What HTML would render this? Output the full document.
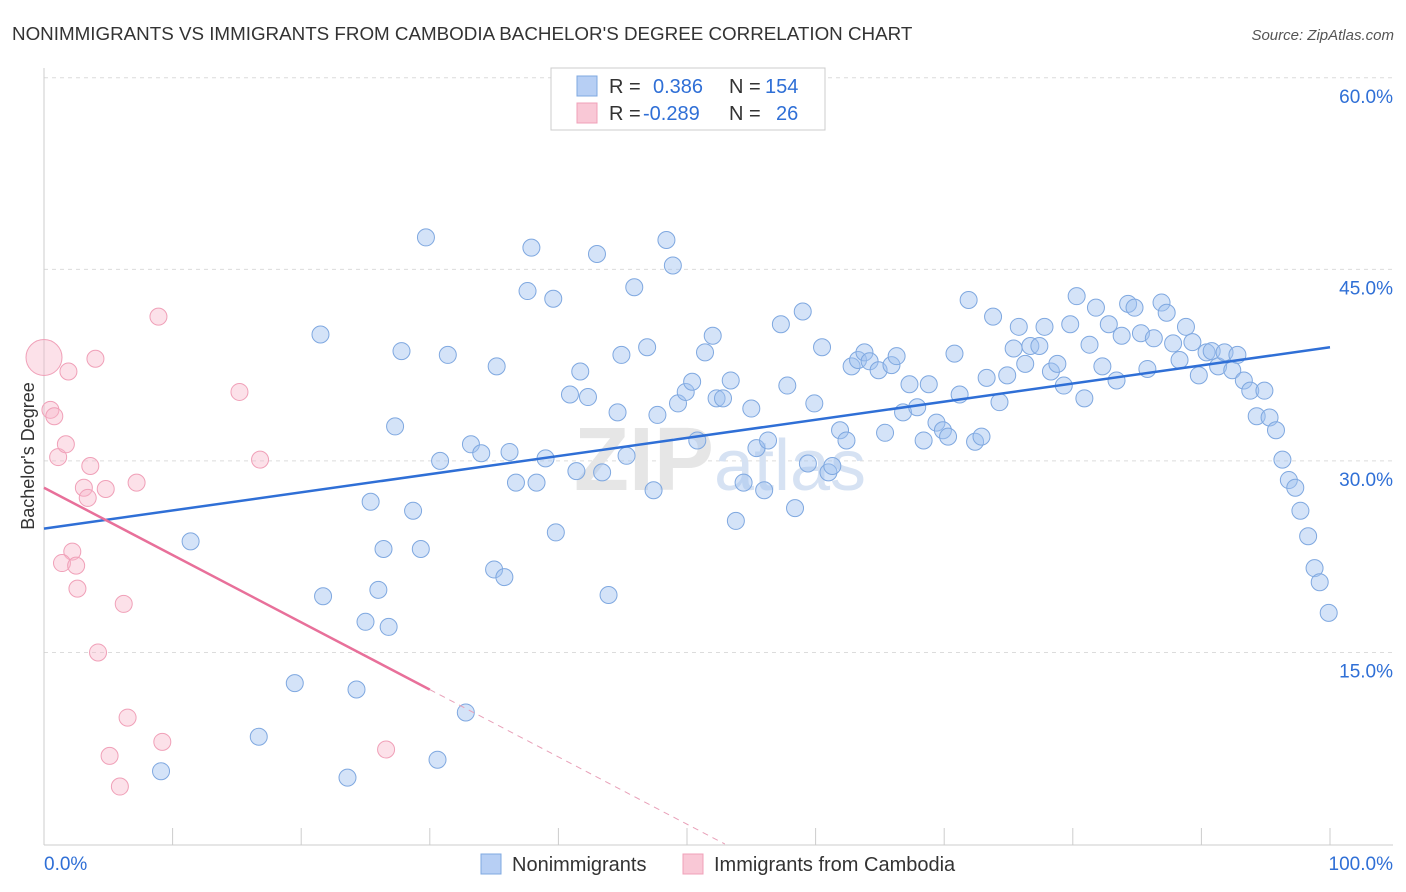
<!DOCTYPE html>
<html><head><meta charset="utf-8"><style>
body{margin:0;background:#fff;font-family:"Liberation Sans",sans-serif;}
svg{display:block}
</style></head><body>
<svg id="chart" width="1406" height="892">
<text x="12" y="40" font-size="18.8" fill="#333" letter-spacing="0">NONIMMIGRANTS VS IMMIGRANTS FROM CAMBODIA BACHELOR'S DEGREE CORRELATION CHART</text>
<text x="1394" y="40" font-size="15" fill="#555" text-anchor="end" font-style="italic">Source: ZipAtlas.com</text>
<g id="grid"></g>
<text x="720" y="490" font-size="90" font-weight="bold" fill="#e6e6e6" text-anchor="middle">ZIP<tspan fill="#d6e2f3" font-weight="normal" font-size="72">atlas</tspan></text>
<text transform="translate(34,456) rotate(-90)" font-size="18" fill="#333" text-anchor="middle">Bachelor's Degree</text>
<g id="marks"></g>
<g>
<rect x="551" y="68" width="274" height="62" fill="#fff" stroke="#ccc"/>
<rect x="577" y="76" width="20" height="20" fill="#b7cff4" stroke="#7fa8e0"/>
<text x="609" y="93" font-size="20" fill="#333">R = <tspan fill="#2f6fd6" x="653">0.386</tspan><tspan x="729" fill="#333">N =</tspan><tspan x="765" fill="#2f6fd6">154</tspan></text>
<rect x="577" y="103" width="20" height="20" fill="#f9c8d6" stroke="#f0a0b8"/>
<text x="609" y="120" font-size="20" fill="#333">R = <tspan fill="#2f6fd6" x="643">-0.289</tspan><tspan x="729" fill="#333">N =</tspan><tspan x="776" fill="#2f6fd6">26</tspan></text>
</g>
<g>
<rect x="481" y="854" width="20" height="20" fill="#b7cff4" stroke="#7fa8e0"/>
<text x="512" y="871" font-size="20" fill="#333">Nonimmigrants</text>
<rect x="683" y="854" width="20" height="20" fill="#f9c8d6" stroke="#f0a0b8"/>
<text x="714" y="871" font-size="20" fill="#333">Immigrants from Cambodia</text>
</g>
</svg>
<script>
const blueX=[29.7,37.9,43.0,48.4,48.9,37.6,39.6,45.9,21.5,27.8,31.4,35.2,27.3,33.2,34.0,36.2,39.0,30.8,25.4,28.7,26.4,29.3,11.4,21.7,26.0,25.0,26.8,35.0,35.8,36.7,38.3,41.4,43.4,45.3,47.4,39.8,43.9,19.5,24.3,16.7,9.1,23.6,30.6,32.8,40.9,42.3,41.7,44.6,44.9,46.9,47.7,49.3,49.9,50.4,50.8,51.4,52.0,52.3,52.8,53.4,55.0,55.4,56.3,54.4,56.0,53.8,58.4,57.8,57.3,59.0,59.9,60.5,59.4,61.0,61.3,61.9,62.4,62.8,63.3,63.8,64.2,64.9,65.4,65.9,66.3,66.8,67.3,67.9,68.4,68.8,69.4,69.9,70.3,70.8,71.2,71.9,72.4,72.9,73.3,73.8,74.3,74.9,75.4,75.8,76.3,76.7,77.4,77.8,78.3,78.8,79.3,79.8,80.3,80.9,81.3,81.8,82.3,82.8,83.4,83.8,84.3,84.8,85.3,85.8,86.3,86.9,87.3,87.8,88.3,88.8,89.3,89.8,90.4,90.8,91.3,91.8,92.4,92.8,93.3,93.8,94.3,94.9,95.3,95.8,96.3,96.8,97.3,97.7,98.3,98.8,99.2,99.9,46.3];
const blueY=[47.5,46.7,46.2,47.3,45.3,43.3,42.7,43.6,39.9,38.6,38.3,37.4,32.7,31.3,30.6,30.7,30.2,30.0,26.8,26.1,23.1,23.1,23.7,19.4,19.9,17.4,17.0,21.5,20.9,28.3,28.3,29.2,29.1,30.4,27.7,24.4,19.5,12.6,12.1,8.4,5.7,5.2,6.6,10.3,35.2,35.0,37.0,33.8,38.3,38.9,33.6,34.5,35.4,36.2,31.6,38.5,39.8,34.9,34.9,36.3,34.1,31.0,31.6,28.3,27.7,25.3,26.3,35.9,40.7,41.7,34.5,38.9,29.8,29.1,29.6,32.4,31.6,37.4,37.9,38.5,37.8,37.1,32.2,37.5,38.2,33.8,36.0,34.2,31.6,36.0,33.0,32.4,31.9,38.4,35.2,42.6,31.5,31.9,36.5,41.3,34.6,36.7,38.8,40.5,37.6,39.0,39.0,40.5,37.0,37.6,35.9,40.7,42.9,34.9,39.1,42.0,37.4,40.7,36.3,39.8,42.3,42.0,40.0,37.2,39.6,42.4,41.6,39.2,37.9,40.5,39.3,36.7,38.5,38.6,37.4,38.5,37.1,38.3,36.3,35.5,33.5,35.5,33.4,32.4,30.1,28.5,27.9,26.1,24.1,21.6,20.5,18.1,58.9];
const pinkX=[0.0,0.5,0.8,1.1,1.7,1.9,3.6,3.1,3.4,4.8,4.0,7.2,2.2,1.4,2.5,2.6,6.2,4.2,8.9,15.2,16.8,6.5,5.1,9.2,5.9,26.6];
const pinkY=[38.1,34.0,33.5,30.3,31.3,37.0,29.6,27.9,27.1,27.8,38.0,28.3,22.9,22.0,21.8,20.0,18.8,15.0,41.3,35.4,30.1,9.9,6.9,8.0,4.5,7.4];
const blueTrend=[24.7,38.9];
const pinkTrend=[27.9,-0.527];
const yTicks=[15,30,45,60];
const yTickLabels=["15.0%","30.0%","45.0%","60.0%"];
const xTickLabels=["0.0%","100.0%"];
const NS="http://www.w3.org/2000/svg";
const X0=44,X1=1330,YB=844,PY=12.77;
const sx=v=>X0+(X1-X0)*v/100;
const sy=v=>YB-v*PY;
function mk(tag,attrs,parent){const e=document.createElementNS(NS,tag);for(const k in attrs)e.setAttribute(k,attrs[k]);parent.appendChild(e);return e;}
const grid=document.getElementById('grid'),marks=document.getElementById('marks');
yTicks.forEach((t,i)=>{
 const l=mk('line',{x1:44,x2:1393,y1:sy(t),y2:sy(t),stroke:'#dcdcdc','stroke-dasharray':'4,4'},grid);
 
 
 const tx=mk('text',{x:1393,y:sy(t)+25,'font-size':19,fill:'#2f6fd6','text-anchor':'end'},grid);
 tx.textContent=yTickLabels[i];
 
 
});
const ax=mk('line',{x1:44,x2:44,y1:68,y2:845,stroke:'#ccc'},grid);


const bx=mk('line',{x1:44,x2:1393,y1:845,y2:845,stroke:'#ccc'},grid);


for(let i=1;i<=10;i++){
 const t=mk('line',{x1:sx(i*10),x2:sx(i*10),y1:828,y2:845,stroke:'#ccc'},grid);
 
 
}
[[0,'start',44],[100,'end',1393]].forEach((d,i)=>{
 const t=mk('text',{x:d[2],y:870,'font-size':19,fill:'#2f6fd6','text-anchor':d[1]},grid);
 t.textContent=xTickLabels[i];
 
 
});
blueX.forEach((x,i)=>{
 const c=mk('circle',{cx:sx(x),cy:sy(blueY[i]),r:8.5,fill:'rgba(160,192,240,0.45)',stroke:'#7fa8e0','stroke-width':1},marks);
 
 
});
pinkX.forEach((x,i)=>{
 const c=mk('circle',{cx:sx(x),cy:sy(pinkY[i]),r:i===0?18:8.5,fill:'rgba(248,180,200,0.4)',stroke:'#f0a0b8','stroke-width':1},marks);
 
 
});
const bl=mk('line',{x1:sx(0),y1:sy(blueTrend[0]),x2:sx(100),y2:sy(blueTrend[1]),stroke:'#2f6fd6','stroke-width':2.5},marks);


const pf=x=>pinkTrend[0]+pinkTrend[1]*x;
const xEnd=-pinkTrend[0]/pinkTrend[1];
const pl=mk('line',{x1:sx(0),y1:sy(pf(0)),x2:sx(30),y2:sy(pf(30)),stroke:'#e8709a','stroke-width':2.5},marks);


const pd=mk('line',{x1:sx(30),y1:sy(pf(30)),x2:sx(xEnd),y2:sy(0),stroke:'#e8a0b8','stroke-width':1,'stroke-dasharray':'6,5'},marks);


</script>
</body></html>
